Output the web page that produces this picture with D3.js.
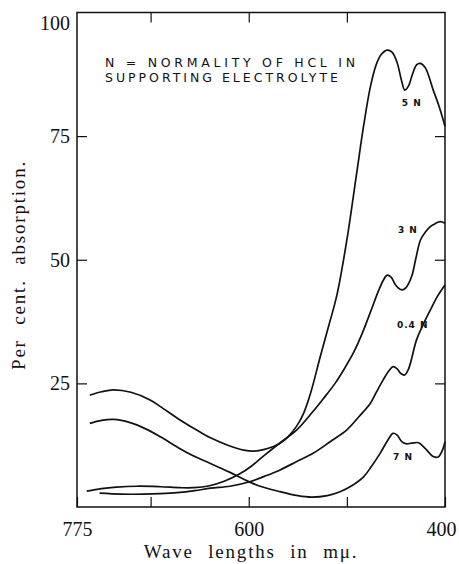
<!DOCTYPE html>
<html>
<head>
<meta charset="utf-8">
<script src="https://cdn.jsdelivr.net/npm/d3@7"></script>
<style>
  html, body { margin: 0; padding: 0; background: #fff; }
  svg { display: block; }
  .num { font-family: "Liberation Serif", serif; font-size: 20px; fill: #111; }
  .title { font-family: "Liberation Serif", serif; font-size: 19px; fill: #111; letter-spacing: 1.8px; word-spacing: 8px; }
  .note { font-family: "DejaVu Sans", sans-serif; font-size: 12.5px; fill: #111; }
  .clab { font-family: "DejaVu Sans", sans-serif; font-size: 9px; font-weight: bold; fill: #111; letter-spacing: 1px; }
</style>
</head>
<body>
<div id="chart"></div>
<script>
// wave lengths (m\u03bc) and per cent absorption
const wl5N = [762, 750, 738, 720, 700, 690, 670, 650, 639, 620, 605, 595, 585, 568, 560, 551, 544, 537, 527, 518, 510, 500, 490, 483, 476, 470, 465, 459, 454, 449, 444, 441, 437, 434, 429, 425, 420, 412, 406, 400];
const abs5N = [22.6, 23.3, 23.7, 23.2, 21.6, 20.3, 17.6, 15.2, 14.0, 12.4, 11.5, 11.3, 11.6, 12.9, 14.2, 16.4, 19.0, 23.0, 30.5, 37.0, 43.0, 54.0, 67.5, 77.0, 85.0, 89.5, 91.5, 92.4, 92.0, 90.0, 86.0, 84.3, 85.2, 87.0, 89.4, 89.7, 88.8, 84.3, 81.0, 77.0];

const wl3N = [765, 750, 735, 714, 690, 670, 656, 640, 625, 610, 597, 585, 568, 551, 535, 524, 512, 503, 493, 485, 476, 468, 463, 459, 455, 450, 444, 440, 434, 430, 425, 420, 415, 410, 405, 400];
const abs3N = [3.2, 3.7, 4.0, 4.2, 4.1, 3.9, 3.9, 4.3, 5.2, 6.6, 8.3, 10.3, 13.0, 15.6, 19.2, 21.9, 25.0, 27.8, 31.3, 34.8, 39.4, 43.6, 45.8, 46.9, 46.5, 44.8, 43.9, 44.3, 46.6, 50.0, 54.0, 55.6, 56.7, 57.3, 57.7, 57.4];

const wl04N = [752, 730, 707, 690, 673, 655, 639, 619, 599, 584, 568, 551, 534, 517, 500, 488, 476, 470, 463, 457, 453, 449, 445, 441, 437, 429, 422, 415, 408, 400];
const abs04N = [2.8, 2.6, 2.6, 2.7, 2.9, 3.3, 3.8, 4.2, 5.1, 6.2, 7.5, 9.2, 10.9, 13.2, 15.6, 18.2, 21.0, 23.2, 25.7, 27.6, 28.4, 28.0, 27.0, 26.7, 28.0, 33.8, 37.0, 39.8, 42.5, 44.9];

const wl7N = [762, 750, 738, 720, 705, 690, 670, 655, 639, 619, 605, 590, 568, 550, 536, 520, 507, 495, 483, 475, 466, 458, 453, 449, 444, 440, 434, 427, 420, 412, 407, 403, 400];
const abs7N = [16.9, 17.5, 17.7, 17.0, 15.8, 14.2, 11.8, 10.2, 8.8, 7.0, 5.6, 4.3, 3.1, 2.3, 2.0, 2.3, 3.1, 4.3, 6.1, 8.2, 10.9, 13.6, 14.9, 14.6, 13.2, 12.8, 12.9, 13.0, 11.8, 10.2, 10.1, 11.3, 13.2];

const seriesNames = ["5 N", "3 N", "0.4 N", "7 N"];
const xTickLabels = [775, 600, 400];
const xTicks = [775, 700, 600, 500, 400];
const yTicks = [100, 75, 50, 25];

const series = [
    { name: seriesNames[0], wl: wl5N, v: abs5N, lab: [444, 81] },
    { name: seriesNames[1], wl: wl3N, v: abs3N, lab: [448, 55.4] },
    { name: seriesNames[2], wl: wl04N, v: abs04N, lab: [449, 36.2] },
    { name: seriesNames[3], wl: wl7N, v: abs7N, lab: [453, 9.5] }
];

const width = 459, height = 564
    , margin = { left: 77, right: 14, top: 12.5, bottom: 57 }
    , x = d3.scaleLinear().domain([775, 400]).range([margin.left, width - margin.right])
    , y = d3.scaleLinear().domain([0, 100]).range([height - margin.bottom, margin.top]);

const svg = d3.select("#chart").append("svg")
    .attr("width", width)
    .attr("height", height);

svg.append("rect").attr("width", width).attr("height", height).attr("fill", "#fff");

// frame
svg.append("rect")
    .attr("x", x(775)).attr("y", y(100))
    .attr("width", x(400) - x(775)).attr("height", y(0) - y(100))
    .attr("fill", "none").attr("stroke", "#111").attr("stroke-width", 1.5);

// axes, ticks pointing inward
const bottom = svg.append("g")
    .attr("transform", "translate(0," + y(0) + ")")
    .call(d3.axisBottom(x).tickValues(xTicks).tickSizeInner(-10).tickSizeOuter(0).tickPadding(15)
        .tickFormat(d => xTickLabels.includes(d) ? d : ""));
bottom.selectAll("text").attr("class", "num").attr("font-size", null).attr("font-family", null)
    .attr("dx", d => d === 400 ? -4 : 0);

const left = svg.append("g")
    .attr("transform", "translate(" + x(775) + ",0)")
    .call(d3.axisLeft(y).tickValues(yTicks).tickSizeInner(-10).tickSizeOuter(0).tickPadding(7));
left.selectAll("text").attr("class", "num").attr("font-size", null).attr("font-family", null)
    .attr("dy", d => d === 100 ? "0.85em" : "0.32em");
left.selectAll(".tick line").filter(d => d === 100).remove();

svg.append("g")
    .attr("transform", "translate(0," + y(100) + ")")
    .call(d3.axisTop(x).tickValues([700, 600, 500]).tickSizeInner(-10).tickSizeOuter(0).tickFormat(""));

svg.append("g")
    .attr("transform", "translate(" + x(400) + ",0)")
    .call(d3.axisRight(y).tickValues([75, 50, 25]).tickSizeInner(-10).tickSizeOuter(0).tickFormat(""));

svg.selectAll(".domain").remove();
svg.selectAll(".tick line").attr("stroke", "#111").attr("stroke-width", 1.2);

// curves
const line = d3.line()
    .x(d => x(d[0]))
    .y(d => y(d[1]))
    .curve(d3.curveCatmullRom.alpha(0.5));

svg.selectAll("path.curve")
    .data(series)
    .enter()
    .append("path")
    .attr("class", "curve")
    .attr("d", s => line(s.wl.map((w, i) => [w, s.v[i]])))
    .attr("fill", "none")
    .attr("stroke", "#111")
    .attr("stroke-width", 1.7);

svg.selectAll("text.clab")
    .data(series)
    .enter()
    .append("text")
    .attr("class", "clab")
    .attr("x", s => x(s.lab[0]))
    .attr("y", s => y(s.lab[1]))
    .text(s => s.name);

// note
svg.append("text").attr("class", "note")
    .attr("x", 105).attr("y", 67)
    .attr("textLength", 250).attr("lengthAdjust", "spacing")
    .text("N = NORMALITY  OF  HCL  IN");
svg.append("text").attr("class", "note")
    .attr("x", 105).attr("y", 82)
    .attr("textLength", 233).attr("lengthAdjust", "spacing")
    .text("SUPPORTING  ELECTROLYTE");

// axis titles
svg.append("text").attr("class", "title")
    .attr("x", 251).attr("y", 558)
    .attr("text-anchor", "middle")
    .text("Wave lengths in m\u03bc.");

svg.append("text").attr("class", "title")
    .attr("transform", "translate(25,265) rotate(-90)")
    .attr("text-anchor", "middle")
    .text("Per cent. absorption.");
</script>
</body>
</html>
